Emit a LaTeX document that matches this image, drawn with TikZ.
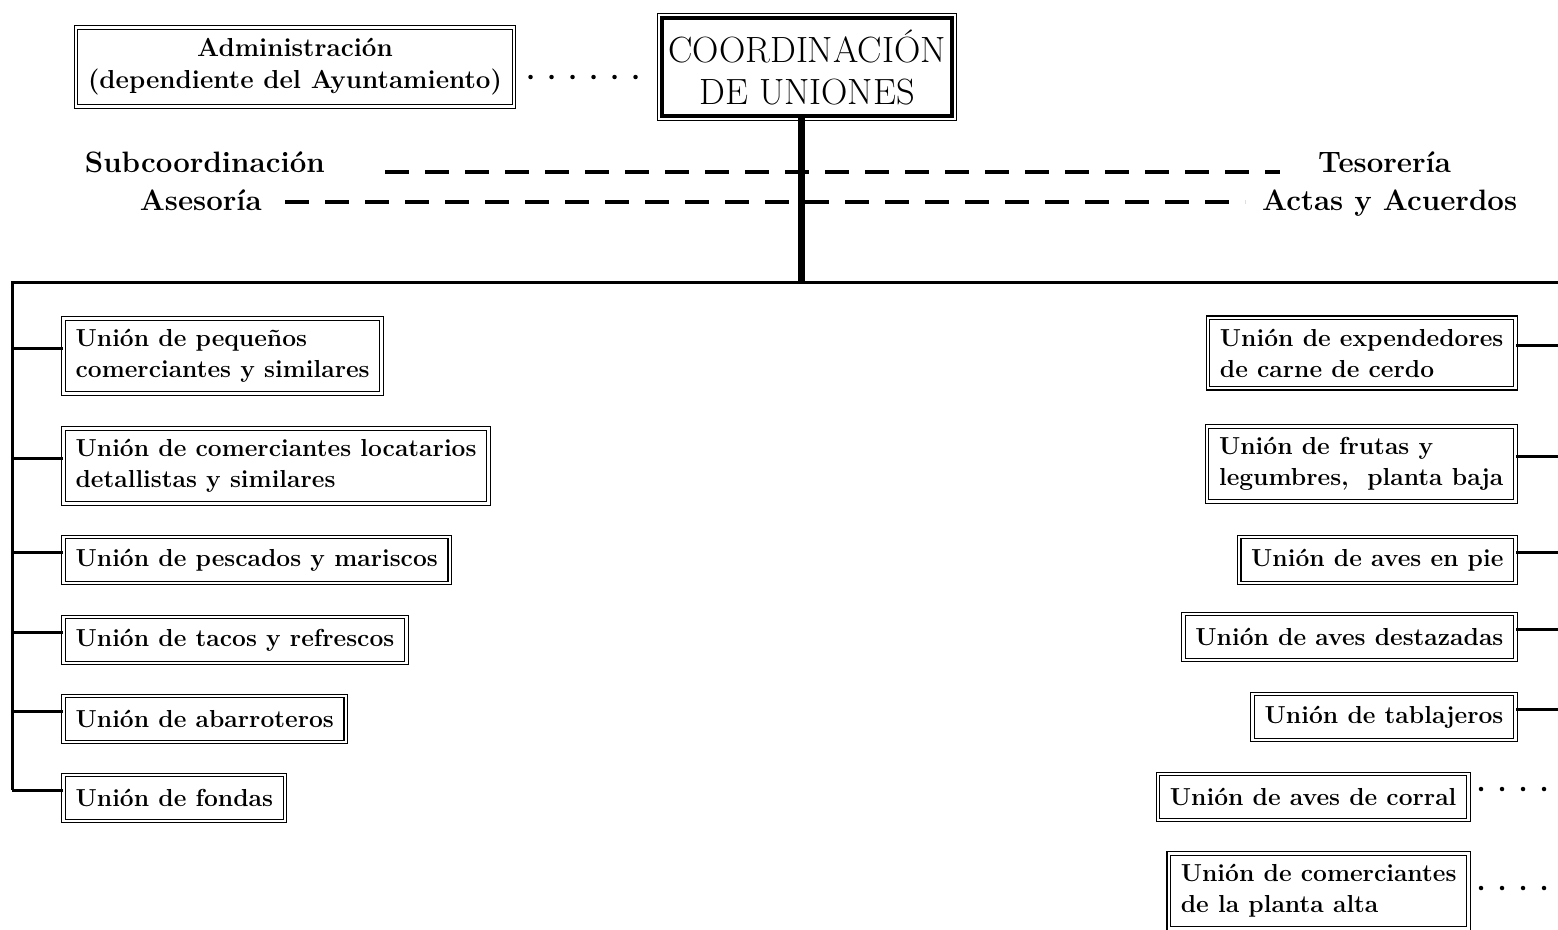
\documentclass[tikz,border=0pt]{standalone}
\usetikzlibrary{fit}
\tikzstyle{union} = [rectangle, draw=black, double, double distance=2.4pt, line width=1.2pt, align=left, font=\bfseries\fontsize{24.6}{31}\selectfont, inner xsep=12pt, inner ysep=11pt, minimum height=46pt]
\tikzstyle{office} = [font=\bfseries\fontsize{29.5}{32}\selectfont, inner sep=0pt]
\tikzstyle{staffline} = [line width=3.5pt, dash pattern=on 24pt off 16pt]
\tikzstyle{bar} = [line width=3pt]
\tikzstyle{trunk} = [line width=7pt]
\tikzstyle{dotline} = [line width=4.5pt, line cap=round, dash pattern=on 0pt off 21pt]

\begin{document}
\begin{tikzpicture}[x=1pt, y=-1pt]
    \useasboundingbox (0,0) rectangle (1558,929);

    % head of the chart
    \node (coord) [draw, line width=4pt, minimum width=290pt, minimum height=98pt, align=center, font=\fontsize{36.5}{42}\selectfont, inner sep=0pt] at (807,67) {COORDINACIÓN\\DE UNIONES};
    \node (coordframe) [draw, line width=1.5pt, fit=(coord), inner sep=2.5pt] {};
    \node (admin) [union, align=center, minimum width=430pt, minimum height=76pt, font=\bfseries\fontsize{26}{32}\selectfont] at (295,67) {Administración\\(dependiente del Ayuntamiento)};

    \draw [dotline, shorten <=16pt, shorten >=6pt] ([yshift=-10pt]admin.east) -- ([yshift=-10pt]coordframe.west);

    % staff
    \node (subco) [office, anchor=base east] at (325,172) {Subcoordinación};
    \node (asesoria) [office, anchor=base east] at (262,210) {Asesoría};
    \node (tesoreria) [office, anchor=base west] at (1318,172) {Tesorería};
    \node (actas) [office, anchor=base west] at (1262,210) {Actas y Acuerdos};

    \draw [staffline] ([xshift=60pt]subco.base east) -- ([xshift=-38pt]tesoreria.base west);
    \draw [staffline] ([xshift=23pt, yshift=8pt]asesoria.base east) -- ([xshift=-17pt, yshift=8pt]actas.base west);

    % unions, left
    \node (pequenos) [union, anchor=west] at (63,356) {Unión de pequeños\\comerciantes y similares};
    \node (locatarios) [union, anchor=west] at (63,466) {Unión de comerciantes locatarios\\detallistas y similares};
    \node (pescados) [union, anchor=west] at (63,560) {Unión de pescados y mariscos};
    \node (tacos) [union, anchor=west] at (63,640) {Unión de tacos y refrescos};
    \node (abarroteros) [union, anchor=west] at (63,719) {Unión de abarroteros};
    \node (fondas) [union, anchor=west] at (63,798) {Unión de fondas};

    % unions, right
    \node (expendedores) [union, anchor=east] at (1516,353) {Unión de expendedores\\de carne de cerdo};
    \node (frutas) [union, anchor=east] at (1516,464) {Unión de frutas y\\legumbres,\ \ planta baja};
    \node (avespie) [union, anchor=east] at (1516,560) {Unión de aves en pie};
    \node (destazadas) [union, anchor=east] at (1516,637) {Unión de aves destazadas};
    \node (tablajeros) [union, anchor=east] at (1516,717) {Unión de tablajeros};
    \node (corral) [union, anchor=east] at (1469,797) {Unión de aves de corral};
    \node (alta) [union, anchor=east] at (1469,891) {Unión de comerciantes\\de la planta alta};

    % lines
    \coordinate (ltrunk) at (12,282);
    \coordinate (rtrunk) at (1561,282);

    \draw [trunk] ([xshift=-6pt]coord.south) -- ([xshift=-6pt]coord.south |- ltrunk);
    \draw [bar] ([yshift=8pt]fondas.west -| ltrunk) -- (ltrunk) -- (rtrunk) -- ([yshift=8pt]tablajeros.east -| rtrunk);

    \foreach \n in {pequenos,locatarios,pescados,tacos,abarroteros,fondas}
        \draw [bar] ([yshift=8pt]\n.west) -- ([yshift=8pt]\n.west -| ltrunk);
    \foreach \n in {expendedores,frutas,avespie,destazadas,tablajeros}
        \draw [bar] ([yshift=8pt]\n.east) -- ([yshift=8pt]\n.east -| rtrunk);

    \draw [dotline, shorten <=12pt] ([yshift=8pt]corral.east) -- ([yshift=8pt]corral.east -| rtrunk);
    \draw [dotline, shorten <=12pt] ([yshift=3pt]alta.east) -- ([yshift=3pt]alta.east -| rtrunk);

\end{tikzpicture}
\end{document}
